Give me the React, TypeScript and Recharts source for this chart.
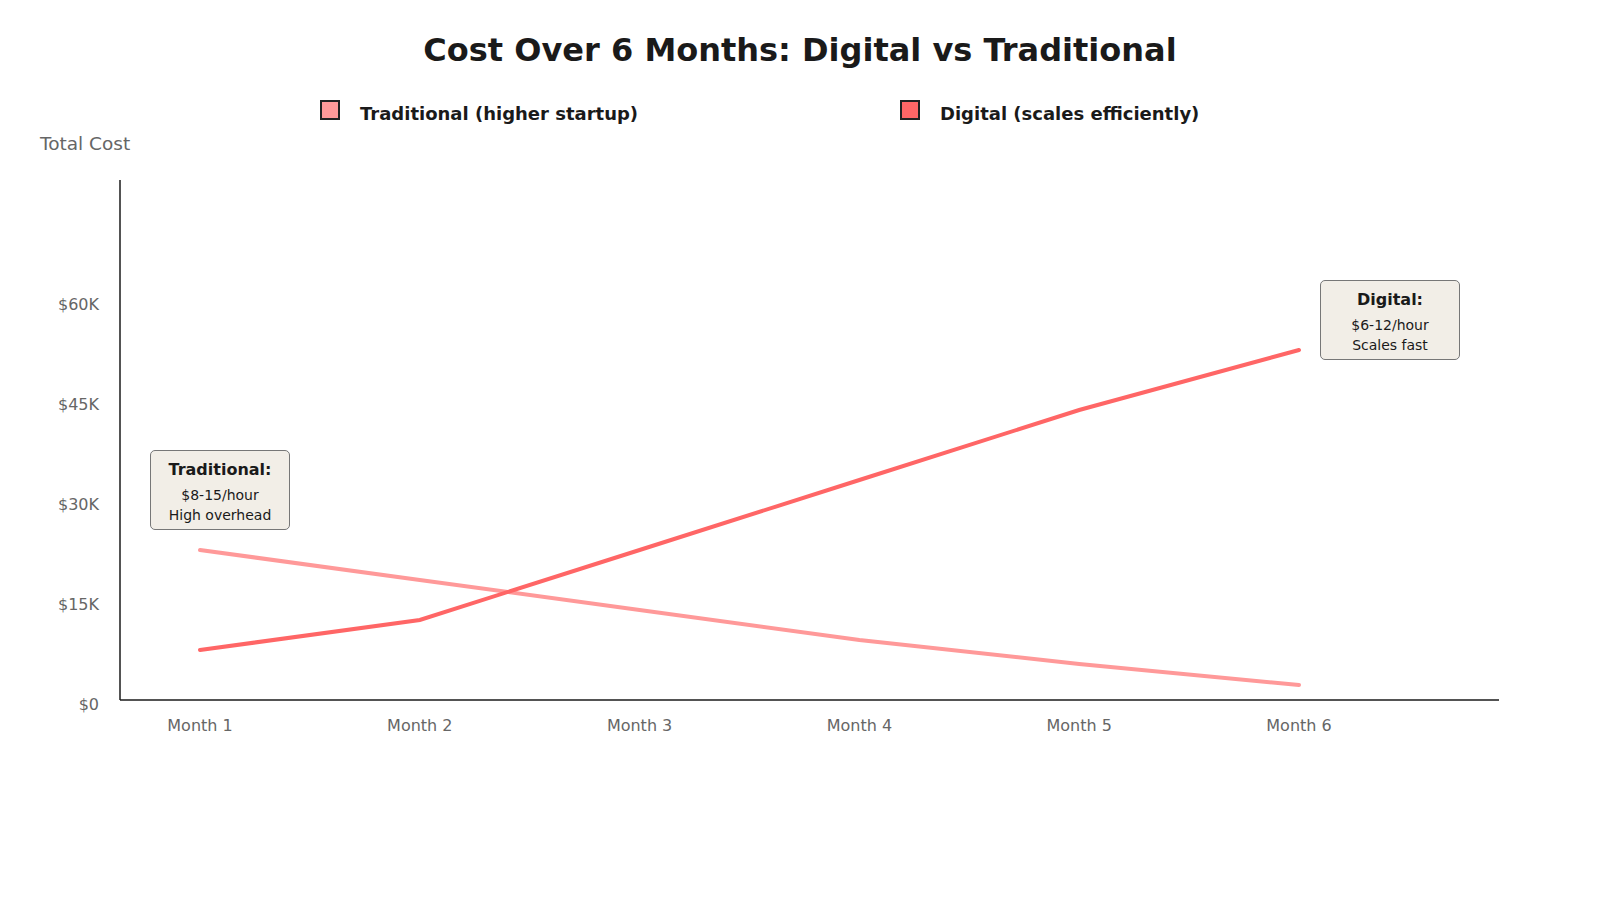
import React from "react";
import { LineChart, Line, XAxis, YAxis } from "recharts";

const months = ["Month 1", "Month 2", "Month 3", "Month 4", "Month 5", "Month 6"];
const traditional = [22500, 18000, 13500, 9000, 5400, 2250];
const digital = [7500, 12000, 22500, 33000, 43500, 52500];
const yTicks = [0, 15000, 30000, 45000, 60000];

const data = months.map((m, i) => ({ month: m, traditional: traditional[i], digital: digital[i] }));

const FONT = "'DejaVu Sans', sans-serif";
const TRAD = "#ff9999";
const DIG = "#ff6666";

const YTick = (props: any) => {
  const { x, y, payload } = props;
  return (
    <text x={x} y={y + 4} textAnchor="end" dominantBaseline="central" fill="#666" fontSize={16} fontFamily={FONT}>
      {payload.value === 0 ? "$0" : `$${payload.value / 1000}K`}
    </text>
  );
};

const XTick = (props: any) => {
  const { x, y, payload } = props;
  return (
    <text x={x} y={y + 17} textAnchor="middle" dominantBaseline="central" fill="#666" fontSize={16} fontFamily={FONT}>
      {payload.value}
    </text>
  );
};

const boxStyle = (left: number, top: number): React.CSSProperties => ({
  position: "absolute",
  left,
  top,
  width: 140,
  height: 80,
  boxSizing: "border-box",
  background: "#f2eee7",
  border: "1.5px solid #777",
  borderRadius: 5,
  fontFamily: FONT,
  color: "#1a1a1a",
  textAlign: "center",
});

export default function App() {
  return (
    <div style={{ position: "absolute", left: 0, top: 0, width: 1600, height: 900, background: "#fff", fontFamily: FONT }}>
      <div style={{ position: "absolute", left: 0, top: 31, width: 1600, textAlign: "center", fontSize: 32, fontWeight: "bold", color: "#1a1a1a", lineHeight: "38px" }}>
        Cost Over 6 Months: Digital vs Traditional
      </div>
      <div style={{ position: "absolute", left: 320, top: 100, width: 20, height: 20, boxSizing: "border-box", background: TRAD, border: "2px solid #222" }} />
      <div style={{ position: "absolute", left: 360, top: 103, fontSize: 18, fontWeight: "bold", color: "#1a1a1a", lineHeight: "22px" }}>
        Traditional (higher startup)
      </div>
      <div style={{ position: "absolute", left: 900, top: 100, width: 20, height: 20, boxSizing: "border-box", background: DIG, border: "2px solid #222" }} />
      <div style={{ position: "absolute", left: 940, top: 103, fontSize: 18, fontWeight: "bold", color: "#1a1a1a", lineHeight: "22px" }}>
        Digital (scales efficiently)
      </div>
      <div style={{ position: "absolute", left: 40, top: 133, fontSize: 18.5, color: "#666", lineHeight: "22px" }}>Total Cost</div>

      <LineChart width={1600} height={900} data={data} margin={{ top: 180, right: 101, bottom: 170, left: 0 }} style={{ position: "absolute", left: 0, top: 0 }}>
        <XAxis
          dataKey="month"
          height={30}
          padding={{ left: 80, right: 200 }}
          axisLine={{ stroke: "#1a1a1a", strokeWidth: 1.5 }}
          tickLine={false}
          tick={<XTick />}
          interval={0}
        />
        <YAxis
          width={120}
          domain={[0, 78000]}
          ticks={yTicks}
          axisLine={{ stroke: "#1a1a1a", strokeWidth: 1.5 }}
          tickLine={false}
          tickSize={0}
          tickMargin={21}
          tick={<YTick />}
          interval={0}
        />
        <Line type="linear" dataKey="traditional" stroke={TRAD} strokeWidth={4} dot={false} isAnimationActive={false} strokeLinecap="round" />
        <Line type="linear" dataKey="digital" stroke={DIG} strokeWidth={4} dot={false} isAnimationActive={false} strokeLinecap="round" />
      </LineChart>

      <div style={boxStyle(150, 450)}>
        <div style={{ fontSize: 16, fontWeight: "bold", marginTop: 9, lineHeight: "20px" }}>Traditional:</div>
        <div style={{ fontSize: 14, marginTop: 5, lineHeight: "20px" }}>$8-15/hour</div>
        <div style={{ fontSize: 14, lineHeight: "20px" }}>High overhead</div>
      </div>
      <div style={boxStyle(1320, 280)}>
        <div style={{ fontSize: 16, fontWeight: "bold", marginTop: 9, lineHeight: "20px" }}>Digital:</div>
        <div style={{ fontSize: 14, marginTop: 5, lineHeight: "20px" }}>$6-12/hour</div>
        <div style={{ fontSize: 14, lineHeight: "20px" }}>Scales fast</div>
      </div>
    </div>
  );
}
